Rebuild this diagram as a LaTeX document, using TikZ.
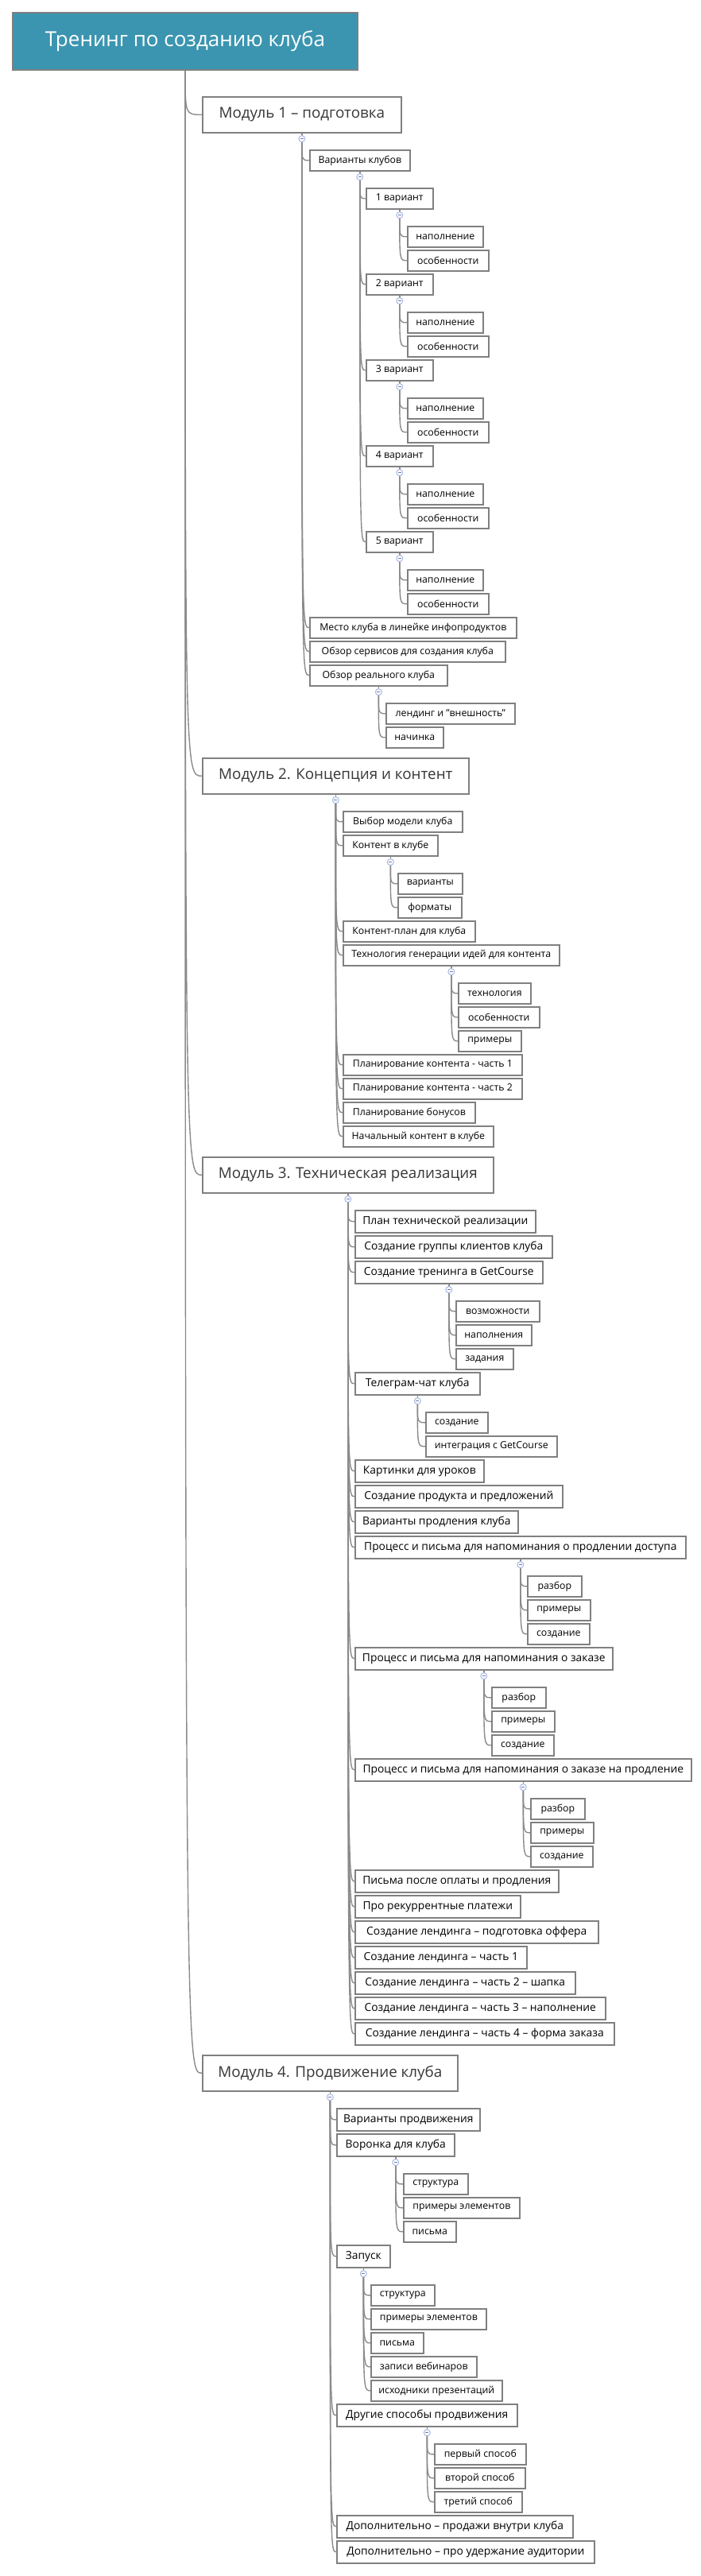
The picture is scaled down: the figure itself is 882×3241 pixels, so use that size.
\documentclass[tikz,border=0pt]{standalone}
\usepackage{fontspec}
\setmainfont{Open Sans}
\definecolor{bordercol}{RGB}{128,128,128}
\definecolor{conncol}{RGB}{138,138,138}
\definecolor{titlecol}{RGB}{59,149,176}
\definecolor{modtext}{RGB}{55,55,55}
\definecolor{btncol}{RGB}{160,178,228}
\tikzset{
  box/.style={draw=bordercol, line width=1.6pt, fill=white, inner sep=0pt, text=black},
  sm/.style={box, font=\fontsize{12.3}{14}\selectfont},
  md/.style={box, font=\fontsize{13.8}{16}\selectfont},
  modbox/.style={box, font=\fontsize{18.8}{22}\selectfont, text=modtext},
  titlebox/.style={box, line width=2pt, fill=titlecol, text=white, font=\fontsize{26}{30}\selectfont},
  conn/.style={draw=conncol, line width=1.4pt},
  btn/.style={circle, draw=btncol, line width=0.9pt, fill=white, minimum size=8pt, inner sep=0pt,
    path picture={\draw[btncol!70!black, line width=0.8pt] ([xshift=-2pt]path picture bounding box.center) -- ([xshift=2pt]path picture bounding box.center);}}
}
\newcommand\bx[7]{\pgfmathsetlengthmacro\bxw{#5-#3}\pgfmathsetlengthmacro\bxh{#6-#4}%
  \node[#2, anchor=north west, minimum width=\bxw, minimum height=\bxh] (#1) at (#3,#4) {\makebox[\bxw]{#7}};}
\newcommand\kids[2]{%
  \coordinate (#1-bt) at ([yshift=-3pt]#1.south);
  \coordinate (#1-bs) at ([yshift=-11pt]#1.south);
  \draw[conn] (#1.south) -- (#1-bt);
  \foreach \kid in {#2} {\draw[conn] (#1-bs) .. controls (#1-bs |- \kid.west) and (#1-bs |- \kid.west) .. (\kid.west);}
}
\newcommand\btn[1]{\node[btn] (#1-btn) at ([yshift=-7pt]#1.south) {};}
\begin{document}
\begin{tikzpicture}[x=1pt,y=-1pt]
\useasboundingbox (0,0) rectangle (882,3241);
% root and modules
\bx{root}{titlebox}{15}{15}{449}{87}{Тренинг по созданию клуба}
\bx{m1}{modbox}{254}{121}{504}{166}{Модуль 1 – подготовка}
\bx{m2}{modbox}{254}{953}{589}{998}{Модуль 2. Концепция и контент}
\bx{m3}{modbox}{254}{1455}{620}{1500}{Модуль 3. Техническая реализация}
\bx{m4}{modbox}{254}{2585}{575}{2630}{Модуль 4. Продвижение клуба}
% module 1
\bx{m1a}{sm}{389}{188}{515}{214}{Варианты клубов}
\bx{v1}{sm}{460}{236}{544}{262}{1 вариант}
\bx{v1a}{sm}{512}{284}{607}{310}{наполнение}
\bx{v1b}{sm}{512}{314}{614}{340}{особенности}
\bx{v2}{sm}{460}{344}{544}{370}{2 вариант}
\bx{v2a}{sm}{512}{392}{607}{418}{наполнение}
\bx{v2b}{sm}{512}{422}{614}{448}{особенности}
\bx{v3}{sm}{460}{452}{544}{478}{3 вариант}
\bx{v3a}{sm}{512}{500}{607}{526}{наполнение}
\bx{v3b}{sm}{512}{530}{614}{556}{особенности}
\bx{v4}{sm}{460}{560}{544}{586}{4 вариант}
\bx{v4a}{sm}{512}{608}{607}{634}{наполнение}
\bx{v4b}{sm}{512}{638}{614}{664}{особенности}
\bx{v5}{sm}{460}{668}{544}{694}{5 вариант}
\bx{v5a}{sm}{512}{716}{607}{742}{наполнение}
\bx{v5b}{sm}{512}{746}{614}{772}{особенности}
\bx{m1b}{sm}{389}{776}{649}{802}{Место клуба в линейке инфопродуктов}
\bx{m1c}{sm}{389}{806}{635}{832}{Обзор сервисов для создания клуба}
\bx{m1d}{sm}{389}{836}{562}{862}{Обзор реального клуба}
\bx{m1d1}{sm}{485}{884}{647}{910}{лендинг и "внешность"}
\bx{m1d2}{sm}{485}{914}{557}{940}{начинка}
% module 2
\bx{m2a}{sm}{431}{1020}{581}{1046}{Выбор модели клуба}
\bx{m2b}{sm}{431}{1050}{550}{1076}{Контент в клубе}
\bx{m2b1}{sm}{500}{1098}{581}{1124}{варианты}
\bx{m2b2}{sm}{500}{1128}{580}{1154}{форматы}
\bx{m2c}{sm}{431}{1158}{597}{1184}{Контент-план для клуба}
\bx{m2d}{sm}{431}{1188}{703}{1214}{Технология генерации идей для контента}
\bx{m2d1}{sm}{576}{1236}{667}{1262}{технология}
\bx{m2d2}{sm}{576}{1266}{678}{1292}{особенности}
\bx{m2d3}{sm}{576}{1296}{655}{1322}{примеры}
\bx{m2e}{sm}{431}{1326}{656}{1352}{Планирование контента - часть 1}
\bx{m2f}{sm}{431}{1356}{656}{1382}{Планирование контента - часть 2}
\bx{m2g}{sm}{431}{1386}{597}{1412}{Планирование бонусов}
\bx{m2h}{sm}{431}{1416}{620}{1442}{Начальный контент в клубе}
% module 3
\bx{m3a}{md}{446}{1522}{673}{1550}{План технической реализации}
\bx{m3b}{md}{446}{1554}{694}{1582}{Создание группы клиентов клуба}
\bx{m3c}{md}{446}{1586}{682}{1614}{Создание тренинга в GetCourse}
\bx{m3c1}{sm}{573}{1636}{678}{1662}{возможности}
\bx{m3c2}{sm}{573}{1666}{668}{1692}{наполнения}
\bx{m3c3}{sm}{573}{1696}{645}{1722}{задания}
\bx{m3d}{md}{446}{1726}{603}{1754}{Телеграм-чат клуба}
\bx{m3d1}{sm}{535}{1776}{613}{1802}{создание}
\bx{m3d2}{sm}{535}{1806}{700}{1832}{интеграция с GetCourse}
\bx{m3e}{md}{446}{1836}{608}{1864}{Картинки для уроков}
\bx{m3f}{md}{446}{1868}{707}{1896}{Создание продукта и предложений}
\bx{m3g}{md}{446}{1900}{651}{1928}{Варианты продления клуба}
\bx{m3h}{md}{446}{1932}{862}{1960}{Процесс и письма для напоминания о продлении доступа}
\bx{m3h1}{sm}{663}{1982}{731}{2008}{разбор}
\bx{m3h2}{sm}{663}{2012}{742}{2038}{примеры}
\bx{m3h3}{sm}{663}{2042}{741}{2068}{создание}
\bx{m3i}{md}{446}{2072}{770}{2100}{Процесс и письма для напоминания о заказе}
\bx{m3i1}{sm}{618}{2122}{686}{2148}{разбор}
\bx{m3i2}{sm}{618}{2152}{697}{2178}{примеры}
\bx{m3i3}{sm}{618}{2182}{696}{2208}{создание}
\bx{m3j}{md}{446}{2212}{869}{2240}{Процесс и письма для напоминания о заказе на продление}
\bx{m3j1}{sm}{667}{2262}{735}{2288}{разбор}
\bx{m3j2}{sm}{667}{2292}{746}{2318}{примеры}
\bx{m3j3}{sm}{667}{2322}{745}{2348}{создание}
\bx{m3k}{md}{446}{2352}{702}{2380}{Письма после оплаты и продления}
\bx{m3l}{md}{446}{2384}{654}{2412}{Про рекуррентные платежи}
\bx{m3m}{md}{446}{2416}{752}{2444}{Создание лендинга – подготовка оффера}
\bx{m3n}{md}{446}{2448}{662}{2476}{Создание лендинга – часть 1}
\bx{m3o}{md}{446}{2480}{723}{2508}{Создание лендинга – часть 2 – шапка}
\bx{m3p}{md}{446}{2512}{761}{2540}{Создание лендинга – часть 3 – наполнение}
\bx{m3q}{md}{446}{2544}{772}{2572}{Создание лендинга – часть 4 – форма заказа}
% module 4
\bx{m4a}{md}{423}{2652}{603}{2680}{Варианты продвижения}
\bx{m4b}{md}{423}{2684}{571}{2712}{Воронка для клуба}
\bx{m4b1}{sm}{507}{2734}{588}{2760}{структура}
\bx{m4b2}{sm}{507}{2764}{653}{2790}{примеры элементов}
\bx{m4b3}{sm}{507}{2794}{573}{2820}{письма}
\bx{m4c}{md}{423}{2824}{490}{2852}{Запуск}
\bx{m4c1}{sm}{466}{2874}{546}{2900}{структура}
\bx{m4c2}{sm}{466}{2904}{611}{2930}{примеры элементов}
\bx{m4c3}{sm}{466}{2934}{532}{2960}{письма}
\bx{m4c4}{sm}{466}{2964}{599}{2990}{записи вебинаров}
\bx{m4c5}{sm}{466}{2994}{631}{3020}{исходники презентаций}
\bx{m4d}{md}{423}{3024}{650}{3052}{Другие способы продвижения}
\bx{m4d1}{sm}{546}{3074}{661}{3100}{первый способ}
\bx{m4d2}{sm}{546}{3104}{660}{3130}{второй способ}
\bx{m4d3}{sm}{546}{3134}{656}{3160}{третий способ}
\bx{m4e}{md}{423}{3164}{720}{3192}{Дополнительно – продажи внутри клуба}
\bx{m4f}{md}{423}{3196}{747}{3224}{Дополнительно – про удержание аудитории}
% connectors
\foreach \mm in {m1,m2,m3,m4} {\draw[conn] (root.south) .. controls (root.south |- \mm.west) and (root.south |- \mm.west) .. (\mm.west);}
\kids{m1}{m1a,m1b,m1c,m1d}
\kids{m1a}{v1,v2,v3,v4,v5}
\kids{v1}{v1a,v1b}
\kids{v2}{v2a,v2b}
\kids{v3}{v3a,v3b}
\kids{v4}{v4a,v4b}
\kids{v5}{v5a,v5b}
\kids{m1d}{m1d1,m1d2}
\kids{m2}{m2a,m2b,m2c,m2d,m2e,m2f,m2g,m2h}
\kids{m2b}{m2b1,m2b2}
\kids{m2d}{m2d1,m2d2,m2d3}
\kids{m3}{m3a,m3b,m3c,m3d,m3e,m3f,m3g,m3h,m3i,m3j,m3k,m3l,m3m,m3n,m3o,m3p,m3q}
\kids{m3c}{m3c1,m3c2,m3c3}
\kids{m3d}{m3d1,m3d2}
\kids{m3h}{m3h1,m3h2,m3h3}
\kids{m3i}{m3i1,m3i2,m3i3}
\kids{m3j}{m3j1,m3j2,m3j3}
\kids{m4}{m4a,m4b,m4c,m4d,m4e,m4f}
\kids{m4b}{m4b1,m4b2,m4b3}
\kids{m4c}{m4c1,m4c2,m4c3,m4c4,m4c5}
\kids{m4d}{m4d1,m4d2,m4d3}
% collapse buttons
\foreach \pp in {m1,m1a,v1,v2,v3,v4,v5,m1d,m2,m2b,m2d,m3,m3c,m3d,m3h,m3i,m3j,m4,m4b,m4c,m4d} {\btn{\pp}}
\end{tikzpicture}
\end{document}
